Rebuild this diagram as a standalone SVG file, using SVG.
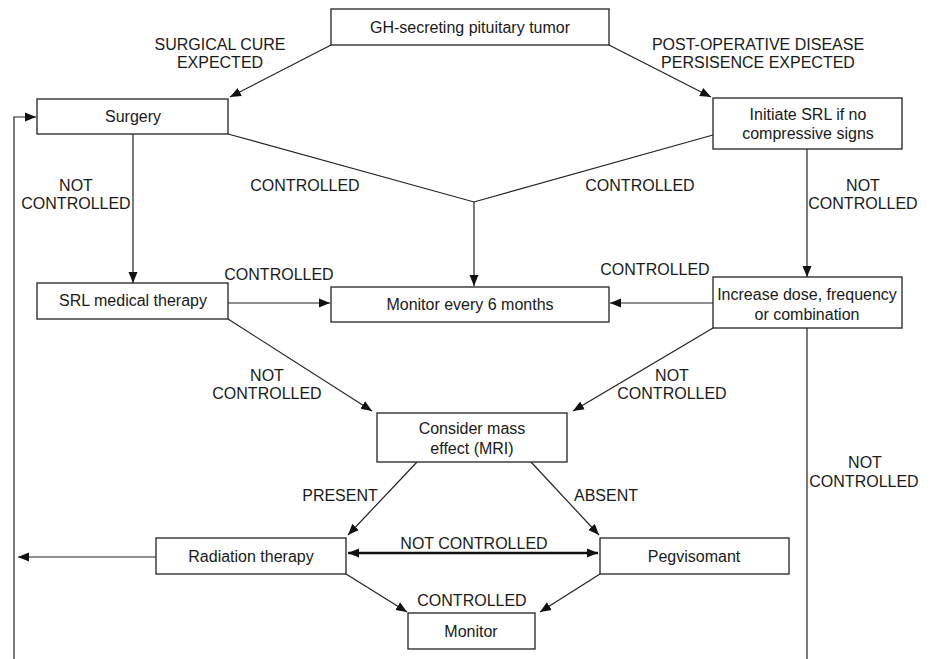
<svg xmlns="http://www.w3.org/2000/svg" width="933" height="659" viewBox="0 0 933 659">
<style>
.box{fill:#fff;stroke:#222;stroke-width:1.3}
.t{font-family:"Liberation Sans",Arial,sans-serif;font-size:16px;fill:#1a1a1a;text-anchor:middle}
.ln{fill:none;stroke:#222;stroke-width:1.2}
.thick{fill:none;stroke:#111;stroke-width:2.4}
</style>
<defs>
<marker id="ah" markerUnits="userSpaceOnUse" markerWidth="12" markerHeight="10" refX="11" refY="5" orient="auto">
<path d="M0,0.5 L11,5 L0,9.5 z" fill="#111"/>
</marker>
<marker id="ahs" markerUnits="userSpaceOnUse" markerWidth="12" markerHeight="10" refX="1" refY="5" orient="auto">
<path d="M12,0.5 L1,5 L12,9.5 z" fill="#111"/>
</marker>
</defs>
<g id="connectors">
<line class="ln" x1="331" y1="45" x2="230" y2="97" marker-end="url(#ah)"/>
<line class="ln" x1="609" y1="45" x2="711" y2="97" marker-end="url(#ah)"/>
<polyline class="ln" points="228,134 474,202 713,135"/>
<line class="ln" x1="474" y1="202" x2="474" y2="286" marker-end="url(#ah)"/>
<line class="ln" x1="133" y1="134" x2="133" y2="283" marker-end="url(#ah)"/>
<line class="ln" x1="807" y1="149" x2="807" y2="277" marker-end="url(#ah)"/>
<line class="ln" x1="228" y1="303" x2="330" y2="303" marker-end="url(#ah)"/>
<line class="ln" x1="713" y1="303" x2="610" y2="303" marker-end="url(#ah)"/>
<line class="ln" x1="228" y1="319" x2="372" y2="411" marker-end="url(#ah)"/>
<line class="ln" x1="713" y1="328" x2="573" y2="411" marker-end="url(#ah)"/>
<line class="ln" x1="417" y1="462" x2="348" y2="535" marker-end="url(#ah)"/>
<line class="ln" x1="531" y1="462" x2="599" y2="535" marker-end="url(#ah)"/>
<line class="thick" x1="348" y1="553" x2="598" y2="553" marker-start="url(#ahs)" marker-end="url(#ah)"/>
<line class="ln" x1="156" y1="557" x2="18" y2="557" marker-end="url(#ah)"/>
<line class="ln" x1="346" y1="574" x2="407" y2="612" marker-end="url(#ah)"/>
<line class="ln" x1="600" y1="574" x2="540" y2="612" marker-end="url(#ah)"/>
<line class="ln" x1="807" y1="328" x2="807" y2="659"/>
<polyline class="ln" points="14,659 14,117 36,117" marker-end="url(#ah)"/>
</g>
<g id="labels">
<text class="t" x="220" y="50">SURGICAL CURE</text>
<text class="t" x="220" y="68">EXPECTED</text>
<text class="t" x="758" y="50">POST-OPERATIVE DISEASE</text>
<text class="t" x="758" y="68">PERSISENCE EXPECTED</text>
<text class="t" x="76" y="191">NOT</text>
<text class="t" x="76" y="209">CONTROLLED</text>
<text class="t" x="305" y="191">CONTROLLED</text>
<text class="t" x="640" y="191">CONTROLLED</text>
<text class="t" x="863" y="191">NOT</text>
<text class="t" x="863" y="209">CONTROLLED</text>
<text class="t" x="279" y="280">CONTROLLED</text>
<text class="t" x="655" y="275">CONTROLLED</text>
<text class="t" x="267" y="381">NOT</text>
<text class="t" x="267" y="399">CONTROLLED</text>
<text class="t" x="672" y="381">NOT</text>
<text class="t" x="672" y="399">CONTROLLED</text>
<text class="t" x="340" y="501">PRESENT</text>
<text class="t" x="606" y="501">ABSENT</text>
<text class="t" x="474" y="549">NOT CONTROLLED</text>
<text class="t" x="472" y="606">CONTROLLED</text>
<text class="t" x="865" y="468">NOT</text>
<text class="t" x="864" y="487">CONTROLLED</text>
</g>
<g id="n-tumor"><rect class="box" x="331" y="9" width="278" height="36"/><text class="t" x="470" y="33">GH-secreting pituitary tumor</text></g>
<g id="n-surgery"><rect class="box" x="37" y="99" width="191" height="35"/><text class="t" x="133" y="122">Surgery</text></g>
<g id="n-initiate"><rect class="box" x="713" y="98" width="189" height="51"/><text class="t" x="808" y="120">Initiate SRL if no</text><text class="t" x="808" y="139">compressive signs</text></g>
<g id="n-srl"><rect class="box" x="37" y="283" width="191" height="36"/><text class="t" x="133" y="306">SRL medical therapy</text></g>
<g id="n-monitor6"><rect class="box" x="331" y="287" width="278" height="35"/><text class="t" x="470" y="310">Monitor every 6 months</text></g>
<g id="n-increase"><rect class="box" x="713" y="277" width="189" height="51"/><text class="t" x="807" y="300">Increase dose, frequency</text><text class="t" x="807" y="320">or combination</text></g>
<g id="n-consider"><rect class="box" x="377" y="413" width="190" height="49"/><text class="t" x="472" y="434">Consider mass</text><text class="t" x="472" y="454">effect (MRI)</text></g>
<g id="n-radiation"><rect class="box" x="156" y="538" width="190" height="36"/><text class="t" x="251" y="562">Radiation therapy</text></g>
<g id="n-pegvisomant"><rect class="box" x="600" y="538" width="189" height="36"/><text class="t" x="694" y="562">Pegvisomant</text></g>
<g id="n-monitor"><rect class="box" x="408" y="613" width="127" height="36"/><text class="t" x="471" y="637">Monitor</text></g>
</svg>
